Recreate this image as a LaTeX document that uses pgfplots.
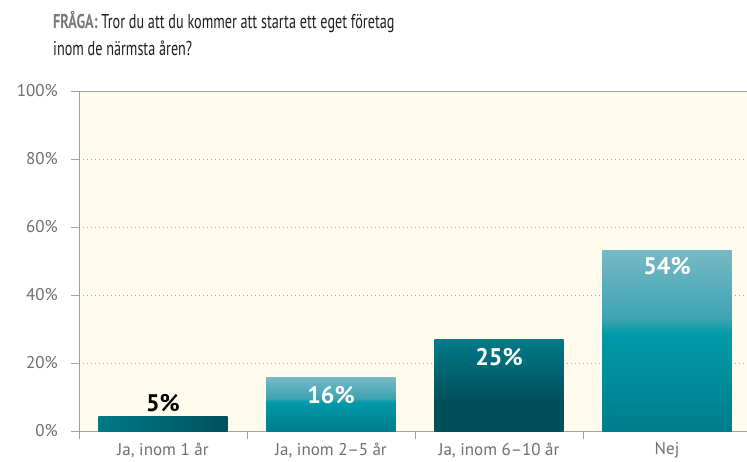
\documentclass[border=0pt]{standalone}
\usepackage{pgfplots}
\pgfplotsset{compat=1.18}
\usepackage{fontspec}
\setmainfont{PT Sans}
\newfontfamily\cond[FakeStretch=0.71]{PT Sans}
\definecolor{bg}{HTML}{FFFCEE}
\definecolor{axisgray}{HTML}{A0A0A0}
\definecolor{tickgray}{HTML}{6E6E6E}
\definecolor{titlegray}{HTML}{7A7A7A}
\definecolor{titledark}{HTML}{1E1E1E}
\definecolor{tlight}{HTML}{76B9C4}
\definecolor{tlight2}{HTML}{3EA3B2}
\definecolor{tmid}{HTML}{009AA8}
\definecolor{tbot}{HTML}{007D8D}
\definecolor{tdark1}{HTML}{007A88}
\definecolor{tdark2}{HTML}{00505C}
\pgfdeclareverticalshading{lightbar}{100bp}{color(0bp)=(tbot); color(25bp)=(tbot); color(52bp)=(tmid); color(56bp)=(tlight2); color(75bp)=(tlight); color(100bp)=(tlight)}
\pgfdeclareverticalshading{darkbar}{100bp}{color(0bp)=(tdark2); color(25bp)=(tdark2); color(42bp)=(tdark2); color(75bp)=(tdark1); color(100bp)=(tdark1)}
\begin{document}
\begin{tikzpicture}[x=1pt,y=1pt]
\useasboundingbox (0,0) rectangle (747,461);
\node[anchor=base west,inner sep=0pt,text=titledark] at (53,432) {\cond\fontsize{20}{27}\selectfont\textcolor{titlegray}{\bfseries FRÅGA:} Tror du att du kommer att starta ett eget företag};
\node[anchor=base west,inner sep=0pt,text=titledark] at (53,405) {\cond\fontsize{20}{27}\selectfont inom de närmsta åren?};
\begin{axis}[
  at={(79pt,30pt)}, anchor=south west,
  scale only axis, width=672pt, height=340pt,
  xmin=-0.5, xmax=3.5, ymin=0, ymax=100,
  axis background/.style={fill=bg},
  axis x line*=bottom, axis y line*=left,
  axis line style={draw=axisgray, line width=0.8pt},
  tick align=outside, major tick length=8pt,
  tick style={draw=axisgray, line width=0.8pt},
  ytick={0,20,40,60,80,100},
  yticklabel={\pgfmathprintnumber{\tick}\%},
  yticklabel style={inner xsep=0pt, xshift=-13pt},
  xtick={-0.5,0.5,1.5,2.5,3.5},
  x tick label as interval,
  xticklabels={{Ja, inom 1 år},{Ja, inom 2–5 år},{Ja, inom 6–10 år},{Nej}},
  ticklabel style={text=tickgray, font=\fontsize{17}{20}\selectfont},
  /pgf/number format/assume math mode=true,
  ymajorgrids,
  grid style={draw=axisgray, line width=0.8pt, dash pattern=on 0.8pt off 3.2pt},
  point meta=explicit symbolic,
  nodes near coords,
  clip=false,
]
\addplot[ybar, bar width=0.77, bar shift=0pt, draw=none, left color=tdark1, right color=tdark2,
  nodes near coords style={anchor=south, yshift=1pt, text=black, font=\fontsize{24}{26}\selectfont\bfseries}]
  coordinates {(0,4.4) [5\%]};
\addplot[ybar, bar width=0.77, bar shift=0pt, draw=none, shading=lightbar,
  nodes near coords style={anchor=north, yshift=-5pt, text=white, font=\fontsize{24}{26}\selectfont\bfseries}]
  coordinates {(1,15.6) [16\%]};
\addplot[ybar, bar width=0.77, bar shift=0pt, draw=none, shading=darkbar,
  nodes near coords style={anchor=north, yshift=-5pt, text=white, font=\fontsize{24}{26}\selectfont\bfseries}]
  coordinates {(2,26.8) [25\%]};
\addplot[ybar, bar width=0.77, bar shift=0pt, draw=none, shading=lightbar,
  nodes near coords style={anchor=north, yshift=-4pt, text=white, font=\fontsize{24}{26}\selectfont\bfseries}]
  coordinates {(3,53.2) [54\%]};
\draw[axisgray, line width=0.8pt] (axis cs:-0.5,100) -- (axis cs:3.5,100);
\end{axis}
\end{tikzpicture}
\end{document}
